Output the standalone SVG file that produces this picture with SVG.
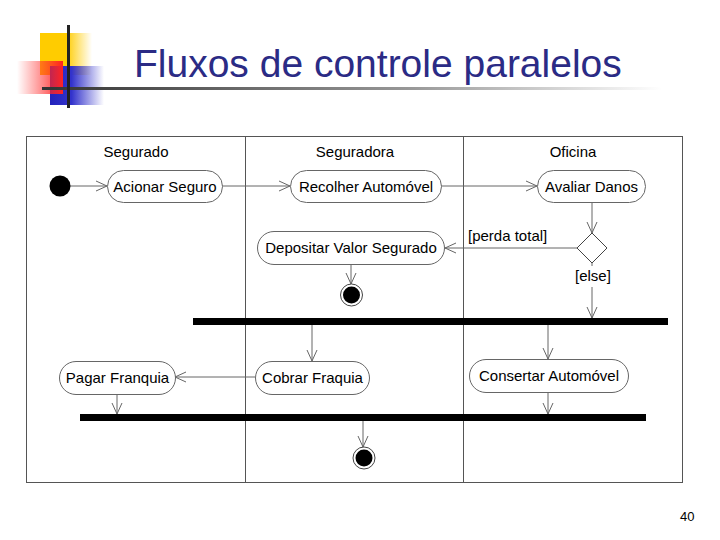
<svg xmlns="http://www.w3.org/2000/svg" width="720" height="540" viewBox="0 0 720 540">
<defs>
<linearGradient id="gy" x1="0" y1="0" x2="1" y2="0"><stop offset="0" stop-color="#FFCC00"/><stop offset="0.5" stop-color="#FFCC00"/><stop offset="1" stop-color="#FFCC00" stop-opacity="0"/></linearGradient>
<linearGradient id="gr" x1="0" y1="0" x2="1" y2="0"><stop offset="0" stop-color="#FF3333" stop-opacity="0"/><stop offset="1" stop-color="#FF2222"/></linearGradient>
<linearGradient id="gb" x1="0" y1="0" x2="1" y2="0"><stop offset="0" stop-color="#2222BB"/><stop offset="0.4" stop-color="#3333CC"/><stop offset="1" stop-color="#3333CC" stop-opacity="0"/></linearGradient>
<linearGradient id="gl" x1="0" y1="0" x2="1" y2="0"><stop offset="0" stop-color="#333333"/><stop offset="0.6" stop-color="#999999"/><stop offset="1" stop-color="#FFFFFF"/></linearGradient>
<marker id="arr" viewBox="0 0 12 12" refX="11" refY="6" markerWidth="12" markerHeight="12" markerUnits="userSpaceOnUse" orient="auto">
<path d="M0,1 L11,6 L0,11" fill="none" stroke="#666" stroke-width="1"/>
</marker>
<style>
.t{font-family:"Liberation Sans",Arial,sans-serif;font-size:15px;fill:#000;text-anchor:middle}
.h{font-family:"Liberation Sans",Arial,sans-serif;font-size:15px;fill:#000;text-anchor:middle}
.g{font-family:"Liberation Sans",Arial,sans-serif;font-size:15px;fill:#000}
.act{fill:#fff;stroke:#666;stroke-width:1}
.c{fill:none;stroke:#666;stroke-width:1;marker-end:url(#arr)}
.ln{fill:none;stroke:#666;stroke-width:1}
.bar{fill:#000}
</style>
</defs>
<rect width="720" height="540" fill="#fff"/>
<g id="logo">
<rect x="40" y="33" width="52" height="42" fill="url(#gy)"/>
<rect x="50" y="66" width="54" height="39" fill="url(#gb)"/>
<rect x="17" y="61" width="46" height="33" fill="url(#gr)"/>
<rect x="42" y="87" width="620" height="3" fill="url(#gl)"/>
<rect x="67" y="25" width="3" height="83" fill="#222"/>
</g>
<text x="134" y="77" font-family="'Liberation Sans',Arial,sans-serif" font-size="39" fill="#2B2B85">Fluxos de controle paralelos</text>
<g id="frame">
<rect x="26.5" y="136.5" width="656" height="346" fill="none" stroke="#555" stroke-width="1"/>
<line x1="245.5" y1="136" x2="245.5" y2="483" stroke="#555"/>
<line x1="463.5" y1="136" x2="463.5" y2="483" stroke="#555"/>
<text class="h" x="136" y="157">Segurado</text>
<text class="h" x="355" y="157">Seguradora</text>
<text class="h" x="573" y="157">Oficina</text>
</g>
<g id="connectors">
<line class="c" x1="70" y1="186" x2="107" y2="186"/>
<line class="c" x1="222" y1="186" x2="290" y2="186"/>
<line class="c" x1="441" y1="186" x2="537" y2="186"/>
<line class="c" x1="592" y1="202" x2="592" y2="233"/>
<line class="c" x1="577" y1="248" x2="445" y2="248"/>
<line class="c" x1="351" y1="264" x2="351" y2="284"/>
<line class="ln" x1="592" y1="263" x2="592" y2="266"/>
<line class="c" x1="592" y1="287" x2="592" y2="318"/>
<line class="c" x1="312" y1="325" x2="312" y2="361"/>
<line class="c" x1="548" y1="325" x2="548" y2="359"/>
<line class="c" x1="255" y1="377" x2="175" y2="377"/>
<line class="c" x1="117" y1="394" x2="117" y2="414"/>
<line class="c" x1="548" y1="392" x2="548" y2="414"/>
<line class="c" x1="363" y1="421" x2="363" y2="447"/>
<text class="g" x="468" y="241">[perda total]</text>
<text class="g" x="575" y="281">[else]</text>
</g>
<g id="initial"><circle cx="60" cy="186" r="10.5" fill="#000"/></g>
<g id="acionar"><rect class="act" x="107.5" y="170.5" width="115" height="32" rx="16"/><text class="t" x="165" y="191.5">Acionar Seguro</text></g>
<g id="recolher"><rect class="act" x="290.5" y="170.5" width="151" height="32" rx="16"/><text class="t" x="366" y="191.5">Recolher Automóvel</text></g>
<g id="avaliar"><rect class="act" x="537.5" y="170.5" width="108" height="32" rx="16"/><text class="t" x="591.5" y="191.5">Avaliar Danos</text></g>
<g id="decision"><polygon points="592,233 607,248 592,263 577,248" fill="#fff" stroke="#444" stroke-width="1"/></g>
<g id="depositar"><rect class="act" x="257.5" y="231.5" width="187" height="33" rx="16.5"/><text class="t" x="351" y="253">Depositar Valor Segurado</text></g>
<g id="final1"><circle cx="351.5" cy="295" r="11" fill="#fff" stroke="#444"/><circle cx="351.5" cy="295" r="8.5" fill="#000"/></g>
<g id="fork"><rect class="bar" x="193" y="318" width="475" height="7"/></g>
<g id="cobrar"><rect class="act" x="255.5" y="361.5" width="114" height="33" rx="16.5"/><text class="t" x="312.5" y="383">Cobrar Fraquia</text></g>
<g id="consertar"><rect class="act" x="469.5" y="359.5" width="159" height="33" rx="16.5"/><text class="t" x="549" y="381">Consertar Automóvel</text></g>
<g id="pagar"><rect class="act" x="59.5" y="361.5" width="116" height="33" rx="16.5"/><text class="t" x="117.5" y="383">Pagar Franquia</text></g>
<g id="join"><rect class="bar" x="80" y="414" width="566" height="7"/></g>
<g id="final2"><circle cx="364" cy="458" r="11" fill="#fff" stroke="#444"/><circle cx="364" cy="458" r="8.5" fill="#000"/></g>
<text x="680" y="521" font-family="'Liberation Sans',Arial,sans-serif" font-size="13" fill="#000">40</text>
</svg>
